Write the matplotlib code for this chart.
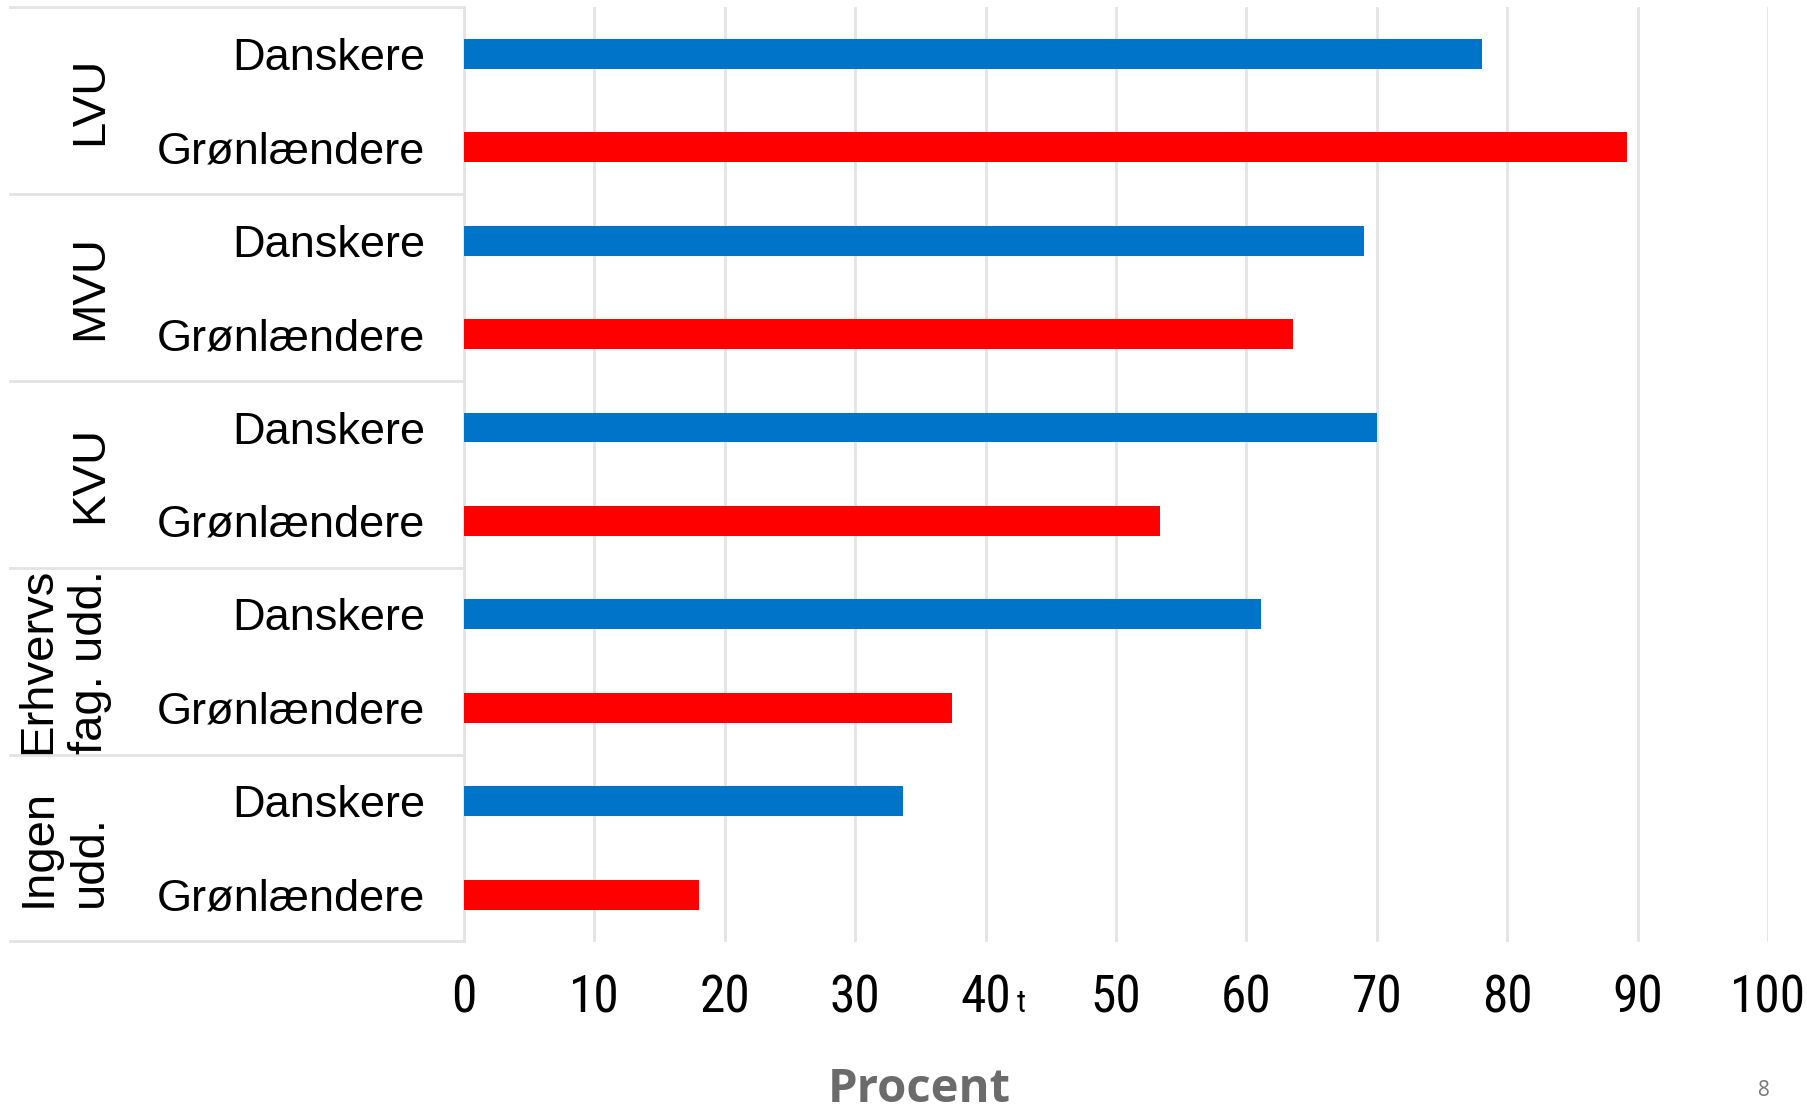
import matplotlib
matplotlib.use("Agg")
import matplotlib.pyplot as plt
from matplotlib import font_manager
from matplotlib.transforms import blended_transform_factory

# data
groups = ["LVU", "MVU", "KVU", "Erhvervs\nfag. udd.", "Ingen\nudd."]
series = ["Danskere", "Grønlændere"]
danskere = [78.1, 69.0, 70.0, 61.1, 33.7]
groenlaendere = [89.2, 63.6, 53.4, 37.4, 18.0]
xticks = [0, 10, 20, 30, 40, 50, 60, 70, 80, 90, 100]

# a narrow face for the x tick numbers, if one is installed
names = sorted({f.name for f in font_manager.fontManager.ttflist})
narrow = None
for n in ["Liberation Sans Narrow", "Arial Narrow", "Roboto Condensed",
          "Open Sans Condensed", "Noto Sans Condensed", "DejaVu Sans Condensed"]:
    if n in names:
        narrow = n
        break
if narrow is None:
    for f in font_manager.fontManager.ttflist:
        if "condensed" in str(f.stretch) or "Narrow" in f.name or "Condensed" in f.name:
            narrow = f.name
            break

plt.rcParams["font.family"] = ["Liberation Sans", "DejaVu Sans"]

W, H = 1808, 1111
fig = plt.figure(figsize=(W / 100, H / 100), dpi=100)
ax = fig.add_axes([464 / W, 1 - 941.5 / H, (1768 - 464) / W, (941.5 - 7) / H])

blue = "#0074C8"
red = "#FF0000"
grid_c = "#E4E4E4"

ypos, vals, cols, labels = [], [], [], []
for i in range(len(groups)):
    for j, (s, v, c) in enumerate(zip(series, [danskere[i], groenlaendere[i]], [blue, red])):
        ypos.append(2 * i + j)
        vals.append(v)
        cols.append(c)
        labels.append(s)

ax.barh(ypos, vals, height=0.32, color=cols, zorder=3)
ax.set_ylim(len(ypos) - 0.5, -0.5)
ax.set_xlim(0, 100)
ax.set_yticks(ypos)
ax.set_yticklabels(labels, fontsize=32.5)
ax.tick_params(axis="y", length=0, pad=28)

tick_font = narrow if narrow else "Liberation Sans"
tick_size = 37 if narrow else 32
ax.set_xticks(xticks)
ax.set_xticklabels([str(t) for t in xticks], fontsize=tick_size, family=tick_font)
ax.tick_params(axis="x", length=0, pad=23 if narrow else 28)
ax.grid(axis="x", color=grid_c, linewidth=2, zorder=0)
for sp in ["top", "right", "bottom"]:
    ax.spines[sp].set_visible(False)
ax.spines["left"].set_color(grid_c)
ax.spines["left"].set_linewidth(2)

# group separators and labels left of the axes
tr = blended_transform_factory(fig.transFigure, ax.transData)
for k in range(len(groups) + 1):
    yb = 2 * k - 0.5
    ax.plot([10 / W, 464 / W], [yb, yb], transform=tr, color=grid_c,
            linewidth=2, clip_on=False, zorder=1)
for i, g in enumerate(groups):
    ax.text(112 / W, 2 * i + 0.5, g, transform=tr, rotation=90, fontsize=34,
            ha="right", va="center", multialignment="left", linespacing=1.22)

ax.set_xlabel("Procent", fontsize=34, fontweight="bold", color="#6B6B6B",
              family=["Open Sans", "DejaVu Sans"])
ax.xaxis.set_label_coords((919 - 464) / (1768 - 464), -(1090 - 941.5) / (941.5 - 7))
ax.xaxis.label.set_va("center")

fig.text(1021 / W, 1 - 1003 / H, "t", fontsize=22, family=tick_font,
         ha="center", va="center")
fig.text(1764 / W, 1 - 1091 / H, "8", fontsize=15, color="#777777", ha="center", va="center",
         family=["Open Sans", "DejaVu Sans"])

fig.savefig("out.png", dpi=100)
